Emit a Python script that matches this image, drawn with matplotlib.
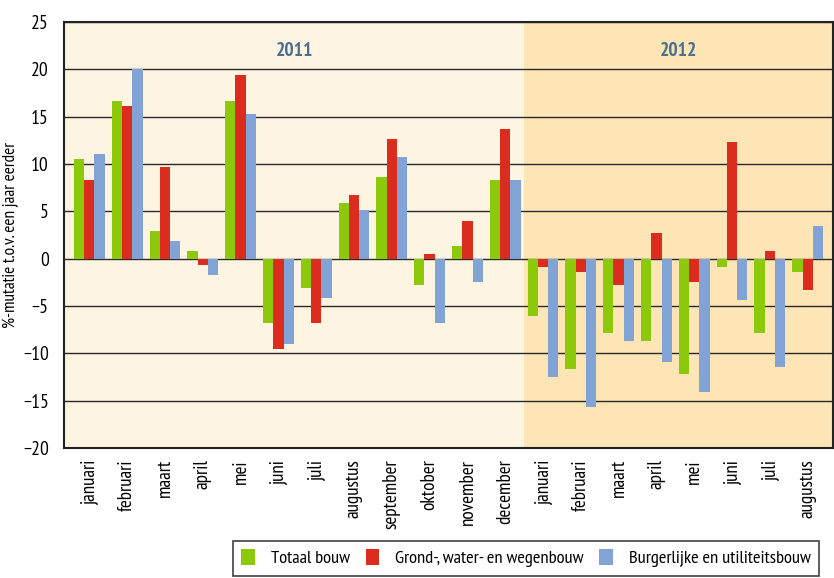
import numpy as np
import matplotlib.pyplot as plt
from matplotlib.patches import Patch

plt.rcParams['font.family'] = ['PT Sans Narrow', 'DejaVu Sans']

months = ['januari', 'februari', 'maart', 'april', 'mei', 'juni', 'juli', 'augustus',
          'september', 'oktober', 'november', 'december',
          'januari', 'februari', 'maart', 'april', 'mei', 'juni', 'juli', 'augustus']

totaal = [10.5, 16.65, 2.9, 0.8, 16.65, -6.76, -3.06, 5.88, 8.63, -2.78, 1.34, 8.31,
          -6.02, -11.62, -7.82, -8.66, -12.15, -0.85, -7.82, -1.37]
grond = [8.3, 16.1, 9.7, -0.63, 19.4, -9.54, -6.76, 6.73, 12.64, 0.49, 3.98, 13.7,
         -0.85, -1.37, -2.78, 2.71, -2.43, 12.32, 0.81, -3.27]
burger = [11.05, 20.0, 1.87, -1.73, 15.3, -8.98, -4.12, 5.14, 10.74, -6.76, -2.43, 8.31,
          -12.46, -15.63, -8.66, -10.88, -14.05, -4.33, -11.41, 3.45]

years = ['2011', '2012']
series_names = ['Totaal bouw', 'Grond-, water- en wegenbouw', 'Burgerlijke en utiliteitsbouw']
colors = ['#8dc90b', '#dc2c1e', '#82a3d6']

fig = plt.figure(figsize=(8.34, 5.78), dpi=100)
ax = fig.add_axes([64/834, 1-448/578, 769/834, 426/578])

x = np.arange(len(months))
w = 0.272
xmin, xmax = -0.67, len(months) - 1 + 0.67
split = 11.5

# achtergrond per jaar
ax.axvspan(xmin, split, color='#fdf4e1', zorder=0, lw=0)
ax.axvspan(split, xmax, color='#fde5b5', zorder=0, lw=0)

for k in range(-20, 26, 5):
    ax.axhline(k, color='#2a2a2a', lw=1.0, zorder=1)

for i, (vals, c) in enumerate(zip([totaal, grond, burger], colors)):
    ax.bar(x + (i - 1) * w, vals, width=w, color=c, zorder=2, lw=0)

ax.text((xmin + split) / 2, 21.9, years[0], ha='center', va='center',
        fontsize=14, fontweight='bold', color='#4a6f91')
ax.text((split + xmax) / 2, 21.9, years[1], ha='center', va='center',
        fontsize=14, fontweight='bold', color='#4a6f91')

ax.set_xlim(xmin, xmax)
ax.set_ylim(-20, 25)
ax.set_yticks(range(-20, 26, 5))
ax.set_xticks(x)
ax.set_xticklabels(months, rotation=90)
ax.tick_params(axis='x', length=0, labelsize=13.8, pad=8)
ax.tick_params(axis='y', length=0, labelsize=14, pad=11)
for s in ax.spines.values():
    s.set_linewidth(1.5)
    s.set_color('#222222')

ax.set_ylabel('%-mutatie t.o.v. een jaar eerder', fontsize=12.5)
ax.yaxis.set_label_coords(-0.058, 0.5)

handles = [Patch(facecolor=c, edgecolor='none') for c in colors]
leg = fig.legend(handles, series_names, loc='upper left', bbox_to_anchor=(233/834, 1-541/578),
                 ncol=3, frameon=True, fancybox=False, fontsize=13.3,
                 handlelength=0.75, handleheight=0.9, handletextpad=0.85, columnspacing=0.85,
                 borderpad=0.45, borderaxespad=0)
leg.get_frame().set_edgecolor('#111111')
leg.get_frame().set_linewidth(1.2)

fig.savefig('out.png', dpi=100)
